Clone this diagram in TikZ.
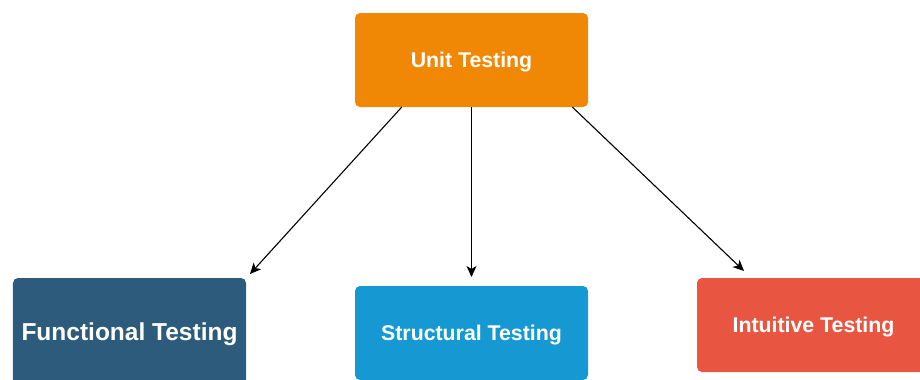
\documentclass[tikz,border=0pt]{standalone}
\usepackage{fontspec}
\setmainfont{Liberation Sans}
\usetikzlibrary{calc}
\usetikzlibrary{arrows.meta}

\definecolor{unitorange}{HTML}{F08705}
\definecolor{funcblue}{HTML}{2D5B7C}
\definecolor{structblue}{HTML}{1699D3}
\definecolor{intured}{HTML}{E85642}

\begin{document}
\begin{tikzpicture}[x=1bp, y=-1bp,
  box/.style={rounded corners=5bp, minimum width=233bp, minimum height=94bp, inner sep=0pt, outer sep=0pt, text depth=0pt, text=white, font=\fontsize{21.3bp}{25bp}\selectfont\bfseries},
  link/.style={black, line width=1.1bp, -{Stealth[length=11bp,width=10bp,inset=3bp]}}]

\useasboundingbox (0,0) rectangle (920,379);
\clip (0,0) rectangle (920,379);

\node[box, fill=unitorange] (unit) at (471.5,60) {Unit Testing};
\node[box, fill=funcblue, minimum height=108bp, font=\fontsize{24.5bp}{28bp}\selectfont\bfseries] (func) at (129.5,332) {Functional Testing};
\node[box, fill=structblue] (struct) at (471.5,333) {Structural Testing};
\node[box, fill=intured] (intu) at (813.5,325) {Intuitive Testing};

\draw[link] (unit.214) -- ($(func.north east)+(4,-4)$);
\draw[link] (unit.south) -- ($(struct.north)+(0,-9)$);
\draw[link] (unit.-25) -- ($(intu.north west)+(47,-7)$);

\end{tikzpicture}
\end{document}
